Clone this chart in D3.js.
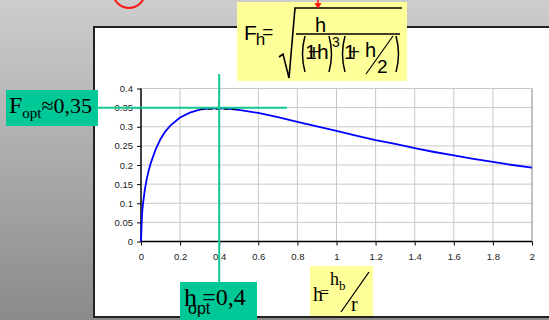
<!DOCTYPE html>
<html>
<head>
<meta charset="utf-8">
<script src="https://cdn.jsdelivr.net/npm/d3@7"></script>
<style>
  html, body { margin: 0; padding: 0; overflow: hidden; }
  svg { display: block; }
</style>
</head>
<body>
<script>
// Relative height h and flow factor F(h)
const hValues = [0, 0.005, 0.01, 0.02, 0.03, 0.04, 0.05, 0.075, 0.1, 0.125, 0.15, 0.2, 0.25, 0.3, 0.35, 0.4,
  0.45, 0.5, 0.6, 0.7, 0.8, 0.9, 1.0, 1.1, 1.2, 1.3, 1.4, 1.5, 1.6, 1.7, 1.8, 1.9, 2.0];
const fValues = [0, 0.07, 0.098, 0.137, 0.165, 0.187, 0.205, 0.241, 0.268, 0.288, 0.303, 0.324, 0.337, 0.345, 0.348, 0.349,
  0.347, 0.344, 0.336, 0.325, 0.313, 0.301, 0.289, 0.277, 0.265, 0.255, 0.244, 0.234, 0.225, 0.216, 0.208, 0.200, 0.193];

const xTicks = [0, 0.2, 0.4, 0.6, 0.8, 1, 1.2, 1.4, 1.6, 1.8, 2];
const yTicks = [0, 0.05, 0.1, 0.15, 0.2, 0.25, 0.3, 0.35, 0.4];

const hOpt = 0.4;
const fOpt = 0.35;

const W = 549, H = 320;
const svg = d3.select("body").append("svg").attr("width", W).attr("height", H);
const defs = svg.append("defs");

// slide background
const bg = defs.append("linearGradient").attr("id", "bg").attr("x1", 0).attr("y1", 0).attr("x2", 0).attr("y2", 1);
bg.append("stop").attr("offset", "0%").attr("stop-color", "#cdcdcd");
bg.append("stop").attr("offset", "100%").attr("stop-color", "#8a8a8a");
svg.append("rect").attr("width", W).attr("height", H).attr("fill", "url(#bg)");

// red circle peeking from the top edge
svg.append("circle").attr("cx", 129).attr("cy", -8).attr("r", 16)
  .attr("fill", "none").attr("stroke", "#ff1a1a").attr("stroke-width", 2);

// white chart panel
svg.append("rect").attr("x", 94).attr("y", 27).attr("width", 480).attr("height", 290)
  .attr("fill", "#ffffff").attr("stroke", "#222").attr("stroke-width", 2);

const x = d3.scaleLinear().domain([0, 2]).range([141, 532]);
const y = d3.scaleLinear().domain([0, 0.4]).range([241.5, 88.5]);

const g = svg.append("g");

// grid
g.selectAll("line.gx").data(xTicks.slice(1)).join("line")
  .attr("x1", d => x(d)).attr("x2", d => x(d)).attr("y1", y(0)).attr("y2", y(0.4))
  .attr("stroke", "#c8c8c8").attr("stroke-width", 1);
g.selectAll("line.gy").data(yTicks.slice(1)).join("line")
  .attr("x1", x(0)).attr("x2", x(2)).attr("y1", d => y(d)).attr("y2", d => y(d))
  .attr("stroke", "#c8c8c8").attr("stroke-width", 1);
g.append("line").attr("x1", x(2)).attr("x2", x(2)).attr("y1", y(0)).attr("y2", y(0.4))
  .attr("stroke", "#a0a0a0").attr("stroke-width", 1);

// axes
const fmt = d => String(d);
const xAxis = g.append("g").attr("transform", `translate(0,${y(0)})`)
  .call(d3.axisBottom(x).tickValues(xTicks).tickFormat(fmt).tickSize(4).tickPadding(8));
const yAxis = g.append("g").attr("transform", `translate(${x(0)},0)`)
  .call(d3.axisLeft(y).tickValues(yTicks).tickFormat(fmt).tickSize(4).tickPadding(4));
[xAxis, yAxis].forEach(a => {
  a.select(".domain").attr("stroke", "#000").attr("stroke-width", 1.5);
  a.selectAll(".tick line").attr("stroke", "#000");
  a.selectAll(".tick text").attr("fill", "#1a1a1a").style("font-family", "Liberation Sans, Arial, sans-serif")
    .style("font-size", "9.5px");
});
yAxis.select(".domain").attr("d", `M0,${y(0)}V${y(0.4)}`);
xAxis.select(".domain").attr("d", `M${x(0)},0H${x(2)}`);

// curve
const pts = hValues.map((h, i) => [h, fValues[i]]);
g.append("path").datum(pts)
  .attr("fill", "none").attr("stroke", "#0000ff").attr("stroke-width", 1.8)
  .attr("d", d3.line().x(d => x(d[0])).y(d => y(d[1])));

// black dashed marker at the maximum
g.append("line").attr("x1", x(0.3)).attr("x2", x(0.5)).attr("y1", y(fOpt) + 1.5).attr("y2", y(fOpt) + 1.5)
  .attr("stroke", "#000").attr("stroke-width", 1.2).attr("stroke-dasharray", "5,3");
g.append("line").attr("x1", x(hOpt)).attr("x2", x(hOpt)).attr("y1", y(fOpt)).attr("y2", y(fOpt) - 7)
  .attr("stroke", "#000").attr("stroke-width", 1.2);

// optimum crosshair
const teal = "#14c896";
svg.append("line").attr("x1", 96).attr("x2", 287).attr("y1", y(fOpt)).attr("y2", y(fOpt))
  .attr("stroke", teal).attr("stroke-width", 2);
svg.append("line").attr("x1", x(hOpt)).attr("x2", x(hOpt)).attr("y1", 74).attr("y2", 284)
  .attr("stroke", teal).attr("stroke-width", 2);

const serif = "Liberation Serif, Times New Roman, serif";
const sans = "Liberation Sans, Arial, sans-serif";

// F_opt label
svg.append("rect").attr("x", 6).attr("y", 90).attr("width", 92).attr("height", 36).attr("fill", "#00c896");
const t1 = svg.append("text").attr("x", 9).attr("y", 113).attr("font-family", serif).attr("fill", "#000");
t1.append("tspan").attr("font-size", 24).text("F");
t1.append("tspan").attr("font-size", 15).attr("dy", 5).text("opt");
t1.append("tspan").attr("font-size", 22).attr("dy", -5).text("≈0,35");

// h_opt label
svg.append("rect").attr("x", 180).attr("y", 282).attr("width", 77).attr("height", 40).attr("fill", "#00c896");
const t2 = svg.append("text").attr("x", 184).attr("y", 306).attr("fill", "#000");
t2.append("tspan").attr("font-family", serif).attr("font-size", 26).text("h");
t2.append("tspan").attr("font-family", sans).attr("font-size", 16).attr("dx", -9).attr("dy", 8).text("opt");
t2.append("tspan").attr("font-family", serif).attr("font-size", 24).attr("dx", -8).attr("dy", -9).text("=0,4");

// h = h_b / r label
svg.append("rect").attr("x", 310).attr("y", 266).attr("width", 63).attr("height", 50).attr("fill", "#ffff99");
const t3 = svg.append("text").attr("x", 313).attr("y", 301).attr("font-family", serif).attr("fill", "#000");
t3.append("tspan").attr("font-size", 20).text("h");
t3.append("tspan").attr("font-size", 16).attr("dx", -3).attr("dy", -3).text("=");
const t4 = svg.append("text").attr("x", 330).attr("y", 285).attr("font-family", serif).attr("fill", "#000");
t4.append("tspan").attr("font-size", 18).text("h");
t4.append("tspan").attr("font-size", 13).attr("dy", 5).text("b");
svg.append("line").attr("x1", 369).attr("y1", 272).attr("x2", 341).attr("y2", 312).attr("stroke", "#000").attr("stroke-width", 1.3);
svg.append("text").attr("x", 351).attr("y", 311).attr("font-family", serif).attr("font-size", 20).text("r");

// formula box
svg.append("rect").attr("x", 237).attr("y", 2).attr("width", 170).attr("height", 79).attr("fill", "#ffff99");
const fh = svg.append("text").attr("x", 244).attr("y", 40).attr("font-family", sans).attr("fill", "#000");
fh.append("tspan").attr("font-size", 21).text("F");
fh.append("tspan").attr("font-size", 17).attr("dx", -1).attr("dy", 5).text("h");
fh.append("tspan").attr("font-size", 19).attr("dx", -3).attr("dy", -7).text("=");
// radical sign
svg.append("path").attr("d", "M279,57 L283,54 L289,78 L295,8 L402,8")
  .attr("fill", "none").attr("stroke", "#000").attr("stroke-width", 1.6);
// fraction bar
svg.append("line").attr("x1", 296).attr("x2", 400).attr("y1", 34).attr("y2", 34).attr("stroke", "#000").attr("stroke-width", 1.3);
svg.append("text").attr("x", 315).attr("y", 32).attr("font-family", sans).attr("font-size", 20).text("h");
// denominator (1+h)^3 (1 + h/2)
const paren = (x0, left) => {
  const dx = left ? -5 : 5;
  svg.append("path").attr("d", `M${x0},36 Q${x0 + dx},54 ${x0},72`)
    .attr("fill", "none").attr("stroke", "#000").attr("stroke-width", 1.5);
};
paren(305, true);
const d1 = svg.append("text").attr("x", 305).attr("y", 59).attr("font-family", sans).attr("font-size", 21).attr("fill", "#000");
d1.append("tspan").text("1");
d1.append("tspan").attr("dx", -9).text("+");
d1.append("tspan").attr("dx", -3).text("h");
paren(329, false);
svg.append("text").attr("x", 332).attr("y", 47).attr("font-family", sans).attr("font-size", 14).text("3");
paren(345, true);
const d2 = svg.append("text").attr("x", 344).attr("y", 59).attr("font-family", sans).attr("font-size", 21).attr("fill", "#000");
d2.append("tspan").text("1");
d2.append("tspan").attr("dx", -8).text("+");
svg.append("text").attr("x", 365).attr("y", 57).attr("font-family", sans).attr("font-size", 20).text("h");
svg.append("line").attr("x1", 393).attr("y1", 36).attr("x2", 366).attr("y2", 74).attr("stroke", "#000").attr("stroke-width", 1.2);
svg.append("text").attr("x", 377).attr("y", 73).attr("font-family", sans).attr("font-size", 19).text("2");
paren(396, false);

// red arrow over the radical
svg.append("line").attr("x1", 318).attr("x2", 318).attr("y1", 0).attr("y2", 5).attr("stroke", "#ff1a1a").attr("stroke-width", 1.5);
svg.append("path").attr("d", "M314.5,3 L321.5,3 L318,9 Z").attr("fill", "#ff1a1a");
</script>
</body>
</html>
